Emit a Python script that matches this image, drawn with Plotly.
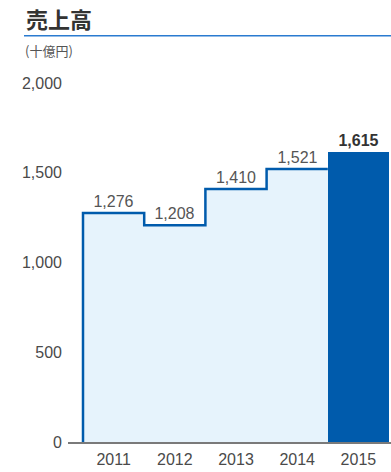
import plotly.graph_objects as go

years = ["2011", "2012", "2013", "2014", "2015"]
sales = [1276, 1208, 1410, 1521, 1615]
y_ticks = [0, 500, 1000, 1500, 2000]
title_text = "売上高"
unit_text = "(十億円)"

W, H = 391, 472
ML, MR, MT, MB = 68, 0, 83, 30
pw = W - ML - MR
ph = H - MT - MB

def px_x(p):
    return (p - ML) / pw

def px_y(p):
    return (H - MB - p) / ph

idx = list(range(len(years)))
dark = "#005BAC"
light = "#E6F3FC"
num_font = "Liberation Sans, Arial, sans-serif"

fig = go.Figure()

# light bars 2011-2014
fig.add_trace(go.Bar(
    x=idx[:-1], y=sales[:-1], width=1,
    marker=dict(color=light, line=dict(width=0)),
    text=[f"{v:,}" for v in sales[:-1]], textposition="outside",
    textfont=dict(family=num_font, size=16, color="#555555"),
    cliponaxis=False, hoverinfo="skip", showlegend=False,
))
# highlighted 2015 bar
fig.add_trace(go.Bar(
    x=idx[-1:], y=sales[-1:], width=1,
    marker=dict(color=dark, line=dict(width=0)),
    text=[f"<b>{v:,}</b>" for v in sales[-1:]], textposition="outside",
    textfont=dict(family=num_font, size=16, color="#333333"),
    cliponaxis=False, hoverinfo="skip", showlegend=False,
))
# step outline
sx = [idx[0] - 0.5] + [i - 0.5 for i in idx[:-1]] + [idx[-2] + 0.5]
sy = [0] + sales[:-1] + [sales[-2]]
fig.add_trace(go.Scatter(
    x=sx, y=sy, mode="lines", line=dict(shape="hv", color=dark, width=2.5),
    hoverinfo="skip", showlegend=False, cliponaxis=False,
))

x0 = -0.5 - (83 - ML) / 61.2
x1 = x0 + pw / 61.2

fig.update_layout(
    width=W, height=H,
    margin=dict(l=ML, r=MR, t=MT, b=MB, autoexpand=False),
    paper_bgcolor="white", plot_bgcolor="white",
    barmode="overlay", bargap=0,
    xaxis=dict(
        range=[x0, x1], tickmode="array", tickvals=idx, ticktext=years,
        showgrid=False, zeroline=False, showline=True, linecolor="#7a7a7a", linewidth=1.5,
        ticks="", tickfont=dict(family=num_font, size=16, color="#4a4a4a"),
        ticklabelstandoff=2, automargin=False,
    ),
    yaxis=dict(
        range=[0, 2000], tickmode="array", tickvals=y_ticks,
        ticktext=[f"{v:,}" for v in y_ticks],
        showgrid=False, zeroline=False, showline=False, ticks="",
        tickfont=dict(family=num_font, size=16, color="#4a4a4a"),
        ticklabelstandoff=5, automargin=False,
    ),
    annotations=[
        dict(text=f"<b>{title_text}</b>", x=px_x(24), y=px_y(18), xref="paper", yref="paper",
             xanchor="left", yanchor="middle", showarrow=False,
             font=dict(family="Noto Sans CJK JP", size=22, color="#333333")),
        dict(text=unit_text, x=px_x(23), y=px_y(50), xref="paper", yref="paper",
             xanchor="left", yanchor="middle", showarrow=False,
             font=dict(family="Noto Sans CJK JP", size=13, color="#555555")),
    ],
    shapes=[
        dict(type="line", xref="paper", yref="paper", x0=px_x(24), x1=1,
             y0=px_y(35.7), y1=px_y(35.7), line=dict(color="#2a7bd0", width=1.5)),
    ],
)

fig.write_html("out.html")
